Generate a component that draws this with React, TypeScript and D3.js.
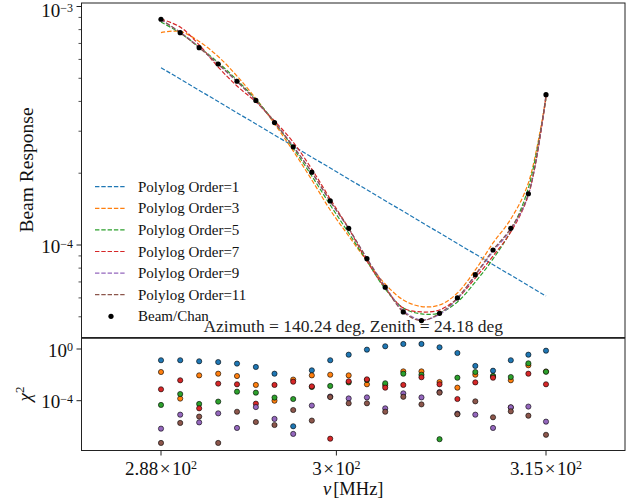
import React from "react";
import * as d3 from "d3";

// Channel centre frequencies [MHz]
const freqs = [
  288.0, 289.29, 290.57, 291.86, 293.14, 294.43, 295.71, 297.0, 298.29, 299.57, 300.86,
  302.14, 303.43, 304.71, 306.0, 307.29, 308.57, 309.86, 311.14, 312.43, 313.71, 315.0,
];

// Beam response per channel
const beam = [
  8.84e-4, 7.77e-4, 6.72e-4, 5.74e-4, 4.86e-4, 4.04e-4, 3.26e-4, 2.58e-4, 2.02e-4, 1.53e-4, 1.175e-4,
  8.76e-5, 6.65e-5, 5.24e-5, 4.82e-5, 5.17e-5, 6.0e-5, 7.51e-5, 9.53e-5, 1.175e-4, 1.64e-4, 4.27e-4,
];

// Polylog fits evaluated at the channel frequencies
const fitOrder1Freqs = [288.0, 315.0];
const fitOrder1 = [5.54e-4, 6.11e-5];
const fitOrder3 = [
  7.77e-4, 7.86e-4, 7.13e-4, 6.17e-4, 5.11e-4, 4.11e-4, 3.22e-4, 2.48e-4, 1.873e-4, 1.402e-4, 1.091e-4,
  8.57e-5, 6.86e-5, 5.88e-5, 5.52e-5, 5.6e-5, 6.29e-5, 7.86e-5, 1.02e-4, 1.285e-4, 1.82e-4, 4.17e-4,
];
const fitOrder5 = [
  8.61e-4, 7.74e-4, 6.76e-4, 5.82e-4, 4.92e-4, 4.07e-4, 3.28e-4, 2.55e-4, 1.946e-4, 1.471e-4, 1.123e-4,
  8.57e-5, 6.54e-5, 5.44e-5, 5.14e-5, 5.19e-5, 5.77e-5, 7.0e-5, 8.74e-5, 1.145e-4, 1.734e-4, 4.09e-4,
];
const fitOrder7 = [
  8.86e-4, 8.2e-4, 6.9e-4, 5.57e-4, 4.64e-4, 3.98e-4, 3.31e-4, 2.7e-4, 2.08e-4, 1.559e-4, 1.173e-4,
  8.57e-5, 6.6e-5, 5.44e-5, 5.24e-5, 5.34e-5, 5.97e-5, 7.27e-5, 8.99e-5, 1.134e-4, 1.62e-4, 4.17e-4,
];
const fitOrder9 = [
  8.8e-4, 7.8e-4, 6.75e-4, 5.72e-4, 4.84e-4, 4.03e-4, 3.27e-4, 2.6e-4, 2.01e-4, 1.52e-4, 1.17e-4,
  8.8e-5, 6.7e-5, 5.3e-5, 4.85e-5, 5.12e-5, 5.95e-5, 7.45e-5, 9.4e-5, 1.16e-4, 1.62e-4, 4.25e-4,
];
const fitOrder11 = [
  8.84e-4, 7.77e-4, 6.72e-4, 5.74e-4, 4.86e-4, 4.04e-4, 3.26e-4, 2.58e-4, 2.02e-4, 1.53e-4, 1.175e-4,
  8.76e-5, 6.65e-5, 5.24e-5, 4.82e-5, 5.17e-5, 6.0e-5, 7.51e-5, 9.53e-5, 1.175e-4, 1.64e-4, 4.27e-4,
];

// Chi-square residual per channel for each fit order
const chi2Order1 = [
  0.135, 0.135, 0.112, 0.0977, 0.0741, 0.0407, 0.0123, 1.05e-6, 0.0224, 0.135, 0.363,
  0.891, 1.62, 2.45, 2.45, 1.35, 0.49, 0.049, 0.0209, 0.135, 0.363, 0.741,
];
const chi2Order3 = [
  1.66e-2, 1.45e-4, 9.1e-3, 1.23e-2, 8.1e-3, 1.66e-3, 1.0e-4, 4.3e-3, 9.1e-3, 1.02e-2, 9.1e-3,
  1.86e-3, 1.58e-3, 1.86e-2, 1.86e-2, 2.8e-3, 1.02e-3, 1.02e-2, 7.9e-3, 3.8e-3, 5.5e-2, 1.82e-2,
];
const chi2Order5 = [
  4.7e-5, 3.3e-4, 5.6e-5, 8.5e-5, 5.0e-4, 4.2e-4, 1.74e-4, 1.35e-4, 1.15e-3, 1.38e-3, 2.6e-3,
  4.0e-3, 2.24e-3, 1.23e-2, 1.02e-2, 1.05e-7, 6.0e-3, 1.66e-2, 8.1e-3, 6.8e-3, 7.8e-2, 1.74e-2,
];
const chi2Order7 = [
  7.6e-4, 3.8e-3, 2.57e-5, 2.1e-3, 1.86e-3, 5.9e-5, 1.66e-3, 2.95e-3, 1.29e-3, 1.15e-7, 3.16e-3,
  4.5e-3, 1.02e-3, 1.66e-3, 6.5e-3, 1.86e-3, 1.35e-4, 2.6e-3, 6.0e-3, 3.0e-5, 1.23e-2, 1.86e-3,
];
const chi2Order9 = [
  6.9e-7, 8.3e-6, 2.1e-6, 1.05e-5, 7.8e-7, 3.2e-5, 3.9e-6, 2.7e-7, 4.2e-5, 2.1e-4, 1.5e-4,
  1.8e-4, 2.57e-5, 3.7e-4, 1.8e-4, 4.7e-4, 1.0e-5, 8.3e-6, 7.8e-7, 3.1e-5, 3.5e-5, 2.4e-6,
];
const chi2Order11 = [
  5.4e-8, 1.9e-6, 5.9e-6, 5.4e-8, 1.4e-5, 2.24e-6, 1.32e-6, 1.9e-5, 2.9e-6, 1.9e-4, 6.3e-5,
  6.3e-5, 1.4e-5, 2.0e-4, 5.2e-5, 4.2e-4, 8.9e-6, 8.9e-5, 5.2e-6, 1.5e-5, 6.9e-6, 2.3e-7,
];

const orderLabels = [
  "Polylog Order=1",
  "Polylog Order=3",
  "Polylog Order=5",
  "Polylog Order=7",
  "Polylog Order=9",
  "Polylog Order=11",
];
const orderColors = ["#1f77b4", "#ff7f0e", "#2ca02c", "#d62728", "#9467bd", "#8c564b"];

const xTicks = [288, 300, 315];
const xTickMantissas = ["2.88", "3", "3.15"];
const topMajorTicks = [1e-3, 1e-4];
const topMinorTicks = [9e-4, 8e-4, 7e-4, 6e-4, 5e-4, 4e-4, 3e-4, 2e-4, 9e-5, 8e-5, 7e-5, 6e-5, 5e-5];
const bottomMajorTicks = [1, 1e-4];

const titleText = "Azimuth = 140.24 deg, Zenith = 24.18 deg";

const W = 633;
const H = 500;
const left = 81.5;
const right = 625;
const top = 3;
const mid = 337.5;
const bottom = 450.5;
const FONT = "'Liberation Serif', 'Times New Roman', serif";
const SPINE = "#222";

export default function App() {
  const x = d3.scaleLog().domain([288, 315]).range([161, 546]);
  const yTop = d3.scaleLog().domain([1e-4, 1e-3]).range([245, 6.5]);
  const yBot = d3.scaleLog().domain([1e-4, 1]).range([400.7, 349]);

  const smooth = d3
    .line<[number, number]>()
    .x((d) => x(d[0]))
    .y((d) => yTop(d[1]))
    .curve(d3.curveCatmullRom.alpha(0.5));
  const straight = d3
    .line<[number, number]>()
    .x((d) => x(d[0]))
    .y((d) => yTop(d[1]));

  const fits: string[] = [
    straight(fitOrder1Freqs.map((f, i) => [f, fitOrder1[i]] as [number, number])) || "",
    ...[fitOrder3, fitOrder5, fitOrder7, fitOrder9, fitOrder11].map(
      (s) => smooth(freqs.map((f, i) => [f, s[i]] as [number, number])) || ""
    ),
  ];
  const chi2 = [chi2Order1, chi2Order3, chi2Order5, chi2Order7, chi2Order9, chi2Order11];

  const dash = "4.4 1.9";
  const legendY0 = 186.7;
  const legendStep = 21.6;

  const sup = (s: string) => (
    <tspan dy={-5.5} fontSize={12}>
      {s}
    </tspan>
  );

  return (
    <svg
      width={W}
      height={H}
      style={{ position: "absolute", left: 0, top: 0, background: "#fff" }}
      fontFamily={FONT}
    >
      <defs>
        <clipPath id="clipTop">
          <rect x={left} y={top} width={right - left} height={mid - top} />
        </clipPath>
        <clipPath id="clipBot">
          <rect x={left} y={mid} width={right - left} height={bottom - mid} />
        </clipPath>
      </defs>
      <rect width={W} height={H} fill="#fff" />

      {/* Fit curves and beam samples */}
      <g clipPath="url(#clipTop)" fill="none">
        {fits.map((d, i) => (
          <path key={i} d={d} stroke={orderColors[i]} strokeWidth={1.2} strokeDasharray={dash} />
        ))}
        {freqs.map((f, i) => (
          <circle key={i} cx={x(f)} cy={yTop(beam[i])} r={2.6} fill="#000" />
        ))}
      </g>

      {/* Legend */}
      <g>
        {orderLabels.map((lab, i) => {
          const yy = legendY0 + i * legendStep;
          return (
            <g key={lab}>
              <line
                x1={95}
                x2={126}
                y1={yy}
                y2={yy}
                stroke={orderColors[i]}
                strokeWidth={1.2}
                strokeDasharray={dash}
              />
              <text x={138} y={yy + 5} fontSize={15} fill="#111">
                {lab}
              </text>
            </g>
          );
        })}
        <circle cx={111} cy={legendY0 + 6 * legendStep} r={2.6} fill="#000" />
        <text x={138} y={legendY0 + 6 * legendStep + 5} fontSize={15} fill="#111">
          Beam/Chan
        </text>
      </g>

      {/* Chi-square residuals */}
      <g clipPath="url(#clipBot)">
        {chi2.map((series, k) =>
          series.map((v, i) => (
            <circle
              key={`${k}-${i}`}
              cx={x(freqs[i])}
              cy={yBot(v)}
              r={2.6}
              fill={orderColors[k]}
              stroke="#000"
              strokeWidth={0.6}
            />
          ))
        )}
      </g>

      {/* Title of the residual panel */}
      <text x={(left + right) / 2} y={332} textAnchor="middle" fontSize={17.5} fill="#222">
        {titleText}
      </text>

      {/* Panel frames */}
      <rect x={left} y={top} width={right - left} height={mid - top} fill="none" stroke={SPINE} strokeWidth={1} />
      <rect x={left} y={mid + 0.8} width={right - left} height={bottom - mid - 0.8} fill="none" stroke={SPINE} strokeWidth={1} />

      {/* Top y axis */}
      {topMajorTicks.map((t) => (
        <g key={t}>
          <line x1={left - 5} x2={left} y1={yTop(t)} y2={yTop(t)} stroke={SPINE} strokeWidth={1} />
          <text x={73} y={Math.max(yTop(t) + 8, 17.2)} textAnchor="end" fontSize={19} fill="#111">
            10{sup(`−${Math.round(-Math.log10(t))}`)}
          </text>
        </g>
      ))}
      {topMinorTicks.map((t) => (
        <line key={t} x1={left - 3} x2={left} y1={yTop(t)} y2={yTop(t)} stroke={SPINE} strokeWidth={0.8} />
      ))}
      <text
        transform={`translate(32.5, 170) rotate(-90)`}
        textAnchor="middle"
        fontSize={19.5}
        fill="#111"
      >
        Beam Response
      </text>

      {/* Bottom y axis */}
      {bottomMajorTicks.map((t) => {
        const e = Math.round(Math.log10(t));
        return (
          <g key={t}>
            <line x1={left - 5} x2={left} y1={yBot(t)} y2={yBot(t)} stroke={SPINE} strokeWidth={1} />
            <text x={73} y={yBot(t) + 7.5} textAnchor="end" fontSize={19} fill="#111">
              10{sup(e === 0 ? "0" : `−${-e}`)}
            </text>
          </g>
        );
      })}
      <text transform={`translate(31, 394) rotate(-90)`} textAnchor="middle" fontSize={19} fill="#111">
        <tspan fontStyle="italic">χ</tspan>
        <tspan dy={-7} fontSize={13}>
          2
        </tspan>
      </text>

      {/* x axis */}
      {xTicks.map((t, i) => (
        <g key={t}>
          <line x1={x(t)} x2={x(t)} y1={bottom} y2={bottom + 5} stroke={SPINE} strokeWidth={1} />
          <text x={x(t)} y={474.5} textAnchor="middle" fontSize={19} fill="#111">
            {xTickMantissas[i]}
            <tspan dx={1.5}>×</tspan>
            <tspan dx={1.5}>10</tspan>
            {sup("2")}
          </text>
        </g>
      ))}
      <text x={(left + right) / 2} y={495} textAnchor="middle" fontSize={18.5} fill="#111">
        <tspan fontStyle="italic">ν</tspan>
        <tspan dx={2}>[MHz]</tspan>
      </text>
    </svg>
  );
}
